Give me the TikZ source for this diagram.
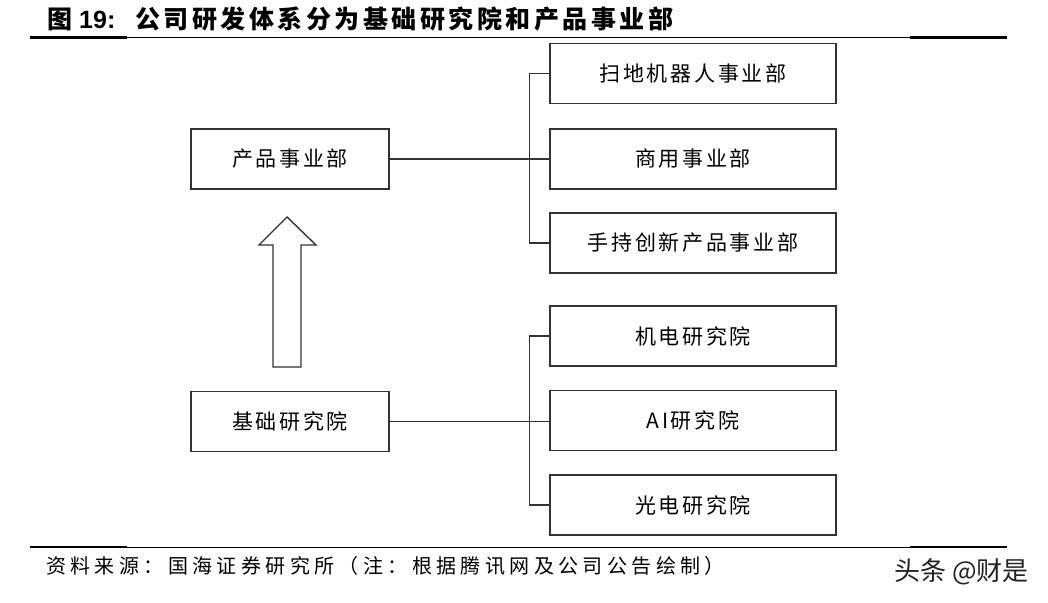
\documentclass[tikz,border=0pt]{standalone}
\usepackage{fontspec}
\setmainfont{Noto Sans CJK SC}
\newfontfamily\cjk{Noto Sans CJK SC}
\newfontfamily\arialf{Liberation Sans}
\definecolor{boxline}{HTML}{333333}
\definecolor{wm}{HTML}{222222}
\tikzset{
  orgbox/.style={draw=boxline, line width=1.4pt, minimum height=60pt, inner sep=0pt, font=\fontsize{21}{21}\selectfont\addfontfeature{LetterSpace=13}},
  leftbox/.style={orgbox, minimum width=198pt},
  rightbox/.style={orgbox, minimum width=286pt},
  link/.style={draw=boxline, line width=1.4pt},
  thickrule/.style={line width=2.2pt, black},
  thinrule/.style={line width=1pt, black}
}
\begin{document}
\begin{tikzpicture}[x=1pt,y=-1pt]
\useasboundingbox (0,0) rectangle (1048,602);
% title
\node[anchor=west, inner sep=0pt, font=\fontsize{25}{25}\selectfont\bfseries] (title) at (47,19)
  {图\hspace{7pt}{\arialf\bfseries 19:}\hspace{20pt}{\addfontfeature{LetterSpace=14}公司研发体系分为基础研究院和产品事业部}};
\draw[thickrule] (30,37.5) -- (127,37.5);
\draw[thinrule] (127,37.5) -- (910,37.5);
\draw[thickrule] (910,37.5) -- (1007,37.5);
% left boxes
\node[leftbox] (p) at (290,159) {产品事业部};
\node[leftbox] (b) at (290,421.5) {基础研究院};
% right boxes
\node[rightbox] (r1) at (693,73.5) {扫地机器人事业部};
\node[rightbox] (r2) at (693,159) {商用事业部};
\node[rightbox] (r3) at (693,243) {手持创新产品事业部};
\node[rightbox] (s1) at (693,336) {机电研究院};
\node[rightbox] (s2) at (693,420.5) {AI研究院};
\node[rightbox] (s3) at (693,505) {光电研究院};
% connectors
\draw[link] (p.east) -- (r2.west);
\draw[link] (r1.west) -- ++(-20,0) |- (r3.west);
\draw[link] (b.east) -- (s2.west |- b.east);
\draw[link] (s1.west) -- ++(-20,0) |- (s3.west);
% block arrow
\draw[link] (273,367) -- (273,245) -- (259,245) -- (287,217) -- (316,245) -- (301,245) -- (301,367) -- cycle;
% bottom rule
\draw[thickrule] (30,547) -- (127,547);
\draw[thinrule] (127,547) -- (910,547);
\draw[thickrule] (910,547) -- (1007,547);
% source
\node[anchor=west, inner sep=0pt, font=\fontsize{20}{20}\selectfont\addfontfeature{LetterSpace=22}] (src) at (46,566)
  {资料来源：国海证券研究所（注：根据腾讯网及公司公告绘制）};
\node[anchor=east, inner sep=0pt, text=wm, font=\fontsize{26}{26}\selectfont] (wmk) at (1029,572) {头条 @财是};
\end{tikzpicture}
\end{document}
